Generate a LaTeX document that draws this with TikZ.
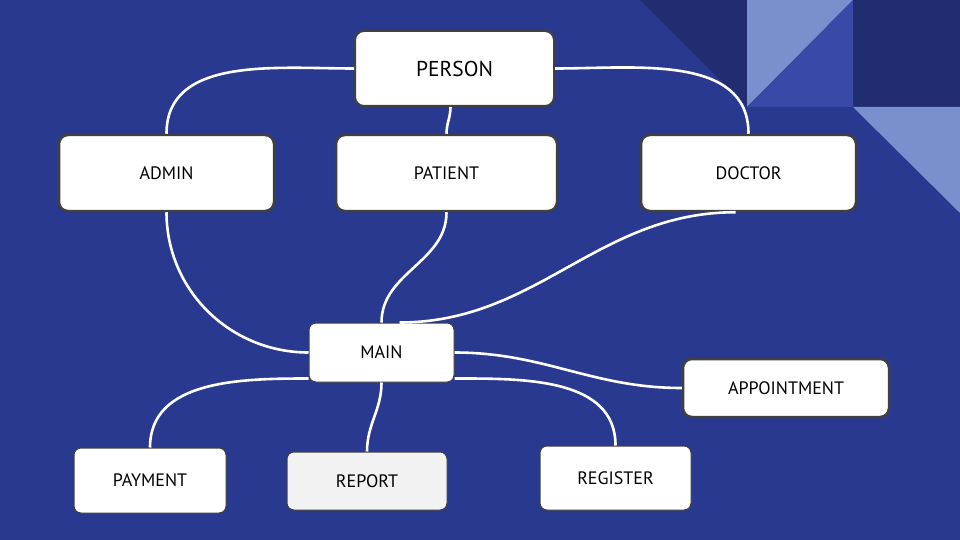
\documentclass[tikz,border=0pt]{standalone}
\usepackage{fontspec}
\setmainfont{PT Sans}
\usetikzlibrary{calc}
\definecolor{bgblue}{RGB}{41,57,143}
\definecolor{darkblue}{RGB}{33,44,113}
\definecolor{lightblue}{RGB}{120,145,206}
\definecolor{midblue}{RGB}{56,73,168}
\definecolor{boxline}{RGB}{64,64,64}
\definecolor{reportgray}{RGB}{242,242,242}
\tikzset{
	box/.style={draw=boxline, line width=2.5pt, fill=white, rounded corners=9pt, inner sep=0pt, text depth=0pt, font=\fontsize{18}{20}\selectfont},
	smallbox/.style={box, line width=1pt, rounded corners=7pt},
	link/.style={white, line width=2.6pt},
}

\begin{document}
\begin{tikzpicture}[x=1pt, y=1pt]
		%%%%% START %%%%%
		
		\fill[bgblue] (0, 0) rectangle (960, -540);
		\useasboundingbox (0, 0) rectangle (960, -540);
		
		% corner pattern
		\fill[darkblue] (640, 0) -- (747, 0) -- (747, -107) -- cycle;
		\fill[lightblue] (747, 0) -- (853, 0) -- (747, -107) -- cycle;
		\fill[midblue] (853, 0) -- (853, -107) -- (747, -107) -- cycle;
		\fill[darkblue] (853, 0) rectangle (960, -107);
		\fill[lightblue] (853, -107) -- (960, -107) -- (960, -213) -- cycle;
		
		\node[box, font=\fontsize{21.5}{24}\selectfont, line width=2pt, minimum width=199pt, minimum height=75pt] (person) at (454.5, -68.5) {PERSON};
		
		\node[box, minimum width=215pt, minimum height=76pt] (admin) at (166.5, -173) {ADMIN};
		\node[box, minimum width=221pt, minimum height=76pt] (patient) at (446.5, -173) {PATIENT};
		\node[box, minimum width=215pt, minimum height=76pt] (doctor) at (748.5, -173) {DOCTOR};
		
		\node[smallbox, minimum width=145pt, minimum height=59pt] (main) at (381.5, -352.5) {MAIN};
		\node[box, minimum width=206pt, minimum height=58pt] (appointment) at (786, -388) {APPOINTMENT};
		
		\node[smallbox, minimum width=152pt, minimum height=65pt] (payment) at (150, -480.5) {PAYMENT};
		\node[smallbox, fill=reportgray, minimum width=160pt, minimum height=58pt] (report) at (367, -481) {REPORT};
		\node[smallbox, minimum width=151pt, minimum height=64pt] (register) at (615.5, -478) {REGISTER};
		
		% connectors
		\draw[link] (person.west) to[out=180, in=90] (admin.north);
		\draw[link] ([xshift=-4pt]person.south) to[out=-90, in=90] (patient.north);
		\draw[link] (person.east) to[out=0, in=90] (doctor.north);
		
		\draw[link] (admin.south) to[out=-90, in=180] (main.west);
		\draw[link] (patient.south) to[out=-90, in=90] (main.north);
		\draw[link] ([xshift=-13pt]doctor.south) to[out=180, in=0] ([xshift=18pt]main.north);
		
		\draw[link] (main.east) to[out=0, in=180] (appointment.west);
		\draw[link] ([yshift=4pt]main.south west) to[out=180, in=90] (payment.north);
		\draw[link] (main.south) to[out=-90, in=90] (report.north);
		\draw[link] ([yshift=4pt]main.south east) to[out=0, in=90] (register.north);
		
		%%%%% END %%%%%
	\end{tikzpicture}
\end{document}
